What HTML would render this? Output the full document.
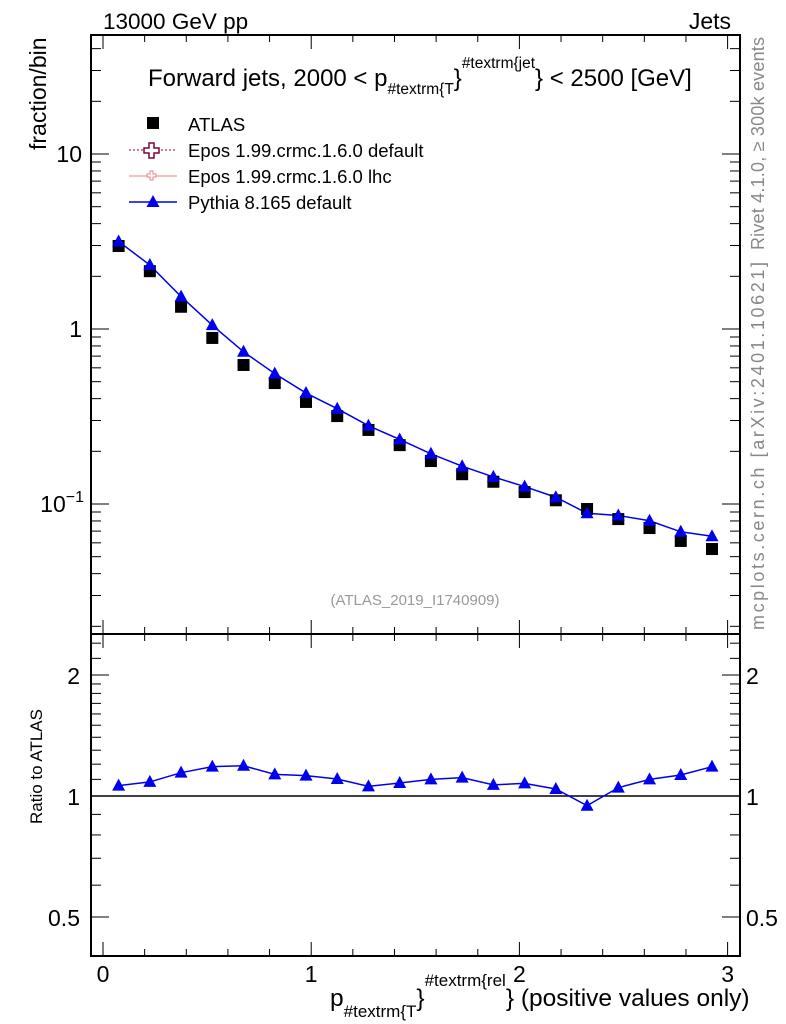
<!DOCTYPE html>
<html><head><meta charset="utf-8"><style>
body{margin:0;background:#fff;}
svg{display:block;font-family:"Liberation Sans",sans-serif;}
</style></head><body>
<svg id="c" width="786" height="1024" viewBox="0 0 786 1024"></svg>
<script>
const xCenters=[0.075,0.225,0.375,0.525,0.675,0.825,0.975,1.125,1.275,1.425,1.575,1.725,1.875,2.025,2.175,2.325,2.475,2.625,2.775,2.925];
const atlasVals=[2.98,2.14,1.34,0.889,0.623,0.491,0.383,0.318,0.265,0.217,0.176,0.148,0.134,0.117,0.105,0.0936,0.082,0.0729,0.0615,0.0553];
const ratioVals=[1.061,1.084,1.143,1.183,1.189,1.132,1.124,1.102,1.057,1.077,1.100,1.111,1.066,1.075,1.041,0.946,1.049,1.100,1.128,1.183];
const xTicks=[0,1,2,3];
const mainTickLabels=["10","1"];
const ratioTickLabels=["2","1","0.5"];

const NS="http://www.w3.org/2000/svg";
const svg=document.getElementById('c');
function mk(tag,attrs,parent){const e=document.createElementNS(NS,tag);for(const k in attrs)e.setAttribute(k,attrs[k]);(parent||svg).appendChild(e);return e;}
const L=91,R=740,MT=35,MB=634,RB=956;
const X=v=>103+v*208.2;
const Y=v=>329-175*Math.log10(v);
const YR=v=>796-121*Math.log2(v);

let f=mk('rect',{x:L,y:MT,width:R-L,height:MB-MT,fill:'none',stroke:'#000','stroke-width':2});

f=mk('rect',{x:L,y:MB,width:R-L,height:RB-MB,fill:'none',stroke:'#000','stroke-width':2});


for(let v=0;v<=3.001;v+=0.2){
  const major=Math.abs(v-Math.round(v))<1e-6;const len=major?14:7;const x=X(v);
  for(const [y,d] of [[MT,1],[MB,-1],[MB,1],[RB,-1]]){
    const t=mk('line',{x1:x,x2:x,y1:y,y2:y+d*len,stroke:'#000','stroke-width':1});
    
  }
}
xTicks.forEach(v=>{const t=mk('text',{x:X(v),y:982,'text-anchor':'middle','font-size':23});t.textContent=v;
});

for(let d=-2;d<=1;d++){for(let m=1;m<=9;m++){const v=m*Math.pow(10,d);const y=Y(v);if(y<MT||y>MB)continue;const len=m==1?18:10;
 for(const [x,s] of [[L,1],[R,-1]]){const t=mk('line',{x1:x,x2:x+s*len,y1:y,y2:y,stroke:'#000'});
 }}}
let t=mk('text',{x:82,y:162,'text-anchor':'end','font-size':23});t.textContent=mainTickLabels[0];
t=mk('text',{x:82,y:337,'text-anchor':'end','font-size':23});t.textContent=mainTickLabels[1];
t=mk('text',{x:84,y:512,'text-anchor':'end','font-size':23});t.innerHTML='10<tspan dy="-10" font-size="16">−1</tspan>';

const rt=[0.5,0.6,0.7,0.8,0.9,1,1.1,1.2,1.3,1.4,1.5,1.6,1.7,1.8,1.9,2,2.2,2.4];
rt.forEach(v=>{const y=YR(v);const major=(v==0.5||v==1||v==2);const len=major?18:10;
 for(const [x,s] of [[L,1],[R,-1]]){const t=mk('line',{x1:x,x2:x+s*len,y1:y,y2:y,stroke:'#000'});
 }});
[2,1,0.5].forEach((v,i)=>{let t=mk('text',{x:80,y:YR(v)+9,'text-anchor':'end','font-size':23});t.textContent=ratioTickLabels[i];

t=mk('text',{x:746,y:YR(v)+9,'font-size':23});t.textContent=ratioTickLabels[i];
});

let rl=mk('line',{x1:L,x2:R,y1:YR(1),y2:YR(1),stroke:'#000','stroke-width':1.5});


function tri(x,y,col){return mk('polygon',{points:`${x},${y-7} ${x-6.5},${y+5} ${x+6.5},${y+5}`,fill:col});}

const pyVals=atlasVals.map((a,i)=>a*ratioVals[i]);
let pl=mk('polyline',{points:xCenters.map((x,i)=>X(x)+','+Y(pyVals[i])).join(' '),fill:'none',stroke:'#0000ee','stroke-width':1.5});

xCenters.forEach((x,i)=>{const r=mk('rect',{x:X(x)-6,y:Y(atlasVals[i])-6,width:12,height:12,fill:'#000'});
});
xCenters.forEach((x,i)=>{const p=tri(X(x),Y(pyVals[i]),'#0000ee');
});

pl=mk('polyline',{points:xCenters.map((x,i)=>X(x)+','+YR(ratioVals[i])).join(' '),fill:'none',stroke:'#0000ee','stroke-width':1.5});

xCenters.forEach((x,i)=>{const p=tri(X(x),YR(ratioVals[i]),'#0000ee');
});
</script>
<svg width="786" height="1024" style="position:absolute;left:0;top:0;font-family:'Liberation Sans',sans-serif">
<text x="103" y="29" font-size="22.5">13000 GeV pp</text>
<text x="731" y="29" font-size="23" text-anchor="end">Jets</text>
<text x="148" y="86" font-size="24">Forward jets, 2000 &lt; p<tspan dy="8" font-size="15.5">#textrm{T</tspan><tspan dy="-8">}</tspan><tspan dy="-18" font-size="15.5">#textrm{jet</tspan><tspan dy="18">} &lt; 2500 [GeV]</tspan></text>
<text transform="translate(46,150) rotate(-90)" font-size="23">fraction/bin</text>
<text transform="translate(42,824) rotate(-90)" font-size="17">Ratio to ATLAS</text>
<text transform="translate(764,250) rotate(-90)" font-size="18" fill="#888" textLength="213" lengthAdjust="spacing">Rivet 4.1.0, ≥ 300k events</text>
<text transform="translate(764,630) rotate(-90)" font-size="18" fill="#888" textLength="368" lengthAdjust="spacing">mcplots.cern.ch [arXiv:2401.10621]</text>
<text x="415" y="605" font-size="15" fill="#999" text-anchor="middle">(ATLAS_2019_I1740909)</text>
<text x="330" y="1006" font-size="24.5">p<tspan dy="11" font-size="17">#textrm{T</tspan><tspan dy="-11">}</tspan><tspan dy="-20" font-size="17">#textrm{rel</tspan><tspan dy="20">} (positive values only)</tspan></text>
<g>
<rect x="147" y="117" width="12" height="12" fill="#000"/>
<text x="188" y="131" font-size="18.5">ATLAS</text>
<line x1="129" x2="177" y1="150" y2="150" stroke="#800040" stroke-dasharray="2,2"/>
<path d="M149,143h5v5h5v5h-5v5h-5v-5h-5v-5h5z" fill="#fff" stroke="#800040" stroke-width="1.5"/>
<text x="188" y="157" font-size="18.5">Epos 1.99.crmc.1.6.0 default</text>
<line x1="129" x2="177" y1="176" y2="176" stroke="#f08080"/>
<path d="M150,171h3v3h3v3h-3v3h-3v-3h-3v-3h3z" fill="#fff" stroke="#f08080"/>
<text x="188" y="183" font-size="18.5">Epos 1.99.crmc.1.6.0 lhc</text>
<line x1="129" x2="177" y1="202" y2="202" stroke="#0000ee" stroke-width="1.5"/>
<polygon points="153,195 146.5,207 159.5,207" fill="#0000ee"/>
<text x="188" y="209" font-size="18.5">Pythia 8.165 default</text>
</g>
</svg>
</body></html>
